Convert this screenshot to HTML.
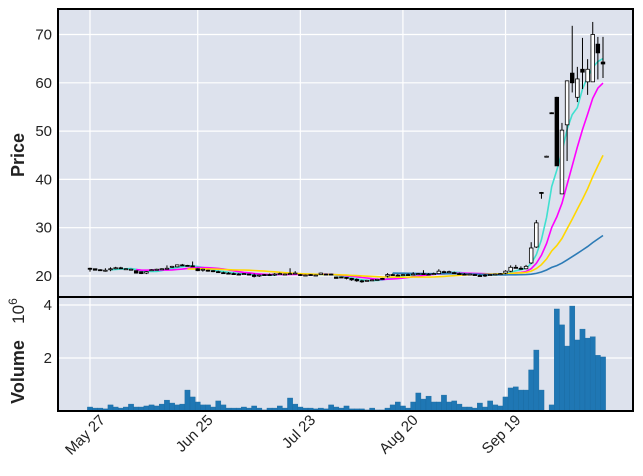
<!DOCTYPE html>
<html><head><meta charset="utf-8"><style>
html,body{margin:0;padding:0;background:#fff;}
svg{display:block;font-family:"Liberation Sans",sans-serif;}
</style></head><body>
<svg id="chart" width="643" height="476" viewBox="0 0 643 476" xmlns="http://www.w3.org/2000/svg">
<rect x="58" y="9" width="575" height="288" fill="#dde2ed"/>
<rect x="58" y="297" width="575" height="114" fill="#dde2ed"/>
<g id="grid"></g>
<g id="vol"></g>
<g id="mav"></g>
<g id="candles"></g>
<rect x="58" y="9" width="575" height="402" fill="none" stroke="#000" stroke-width="2"/>
<line x1="58" y1="297" x2="633" y2="297" stroke="#000" stroke-width="2"/>
<g id="axes" font-size="15" fill="#222"></g>
<text x="24" y="155" transform="rotate(-90 24 155)" text-anchor="middle" font-size="18" font-weight="bold" fill="#222">Price</text>
<text x="24" y="372" transform="rotate(-90 24 372)" text-anchor="middle" font-size="18" font-weight="bold" fill="#222">Volume</text>
<text x="24" y="311" transform="rotate(-90 24 311)" text-anchor="middle" font-size="17" fill="#222">10<tspan dy="-7" font-size="12">6</tspan></text>
</svg>
<script>
const opens  = [21.6,21.5,21.3,21.2,21.3,21.6,21.7,21.4,21.4,21.1,20.9,20.6,21.2,21.3,21.4,21.5,21.8,21.9,22.3,22.2,22.1,21.5,21.3,21.2,21.1,20.9,20.7,20.6,20.5,20.4,20.4,20.4,20.2,20.0,20.3,20.3,20.2,20.4,20.3,20.3,20.4,20.3,20.2,20.3,20.1,20.3,20.4,20.4,19.8,19.8,19.7,19.5,19.3,19.0,19.0,19.2,19.3,19.5,20.0,20.3,20.2,20.2,20.3,20.3,20.4,20.5,20.4,20.4,20.5,20.9,20.8,20.7,20.5,20.4,20.3,20.3,20.1,20.2,20.2,20.3,20.4,20.6,21.0,21.8,21.6,21.5,22.7,26.0,37.3,44.8,53.8,57.0,37.0,51.3,62.0,57.0,62.8,60.2,60.2,68.0,64.3];
const highs  = [21.7,21.5,21.4,21.6,21.8,21.9,21.9,21.6,21.5,21.1,20.9,21.0,21.4,21.5,21.6,22.2,22.1,22.4,22.5,22.3,23.0,21.6,21.5,21.3,21.2,21.1,20.9,20.8,20.7,20.6,20.6,20.5,20.5,20.3,20.4,20.5,20.6,20.7,20.5,21.6,21.0,20.4,20.3,20.4,20.3,20.7,20.5,20.5,19.9,19.9,19.8,19.6,19.5,19.2,19.2,19.3,19.4,19.6,20.6,20.5,20.4,20.4,20.5,20.8,20.6,21.2,20.6,20.7,21.4,21.1,21.1,20.9,20.7,20.6,20.5,20.4,20.3,20.4,20.4,20.5,20.6,21.2,22.2,22.3,22.0,22.3,27.0,31.6,37.4,44.9,53.9,57.1,51.7,60.5,71.8,63.3,69.3,64.9,72.6,69.5,69.5];
const lows   = [20.9,21.2,21.1,20.9,21.0,21.4,21.5,21.3,21.3,20.5,20.4,20.4,21.1,21.2,21.3,21.4,21.7,21.8,22.1,22.0,21.9,21.0,20.9,20.9,20.8,20.7,20.5,20.4,20.3,20.2,20.2,20.1,19.7,19.8,20.1,20.1,20.0,20.3,20.2,20.3,20.3,20.1,20.1,20.1,20.0,20.2,20.2,20.1,19.5,19.6,19.3,19.0,18.8,18.6,18.9,19.0,19.1,19.3,19.7,20.1,20.0,20.1,20.1,20.2,20.2,20.3,20.2,20.2,20.4,20.6,20.6,20.5,20.3,20.2,20.2,20.1,19.9,19.8,20.0,20.1,20.2,20.4,20.8,21.6,21.3,21.4,22.5,25.8,36.0,44.6,53.6,42.8,37.0,43.8,58.0,56.0,58.7,57.5,60.2,60.7,61.0];
const closes = [21.4,21.2,21.1,21.2,21.5,21.7,21.6,21.5,21.4,20.6,20.5,20.9,21.3,21.4,21.5,21.6,22.0,22.3,22.2,22.1,22.0,21.1,21.4,21.0,20.9,20.8,20.6,20.5,20.4,20.3,20.5,20.2,19.9,20.2,20.2,20.2,20.4,20.5,20.4,20.5,20.6,20.2,20.2,20.2,20.2,20.6,20.3,20.2,19.5,19.6,19.5,19.2,19.0,18.8,19.1,19.2,19.3,19.4,20.3,20.2,20.1,20.3,20.2,20.4,20.5,20.4,20.3,20.5,21.0,20.8,20.9,20.6,20.4,20.3,20.4,20.2,20.0,20.1,20.3,20.4,20.5,21.0,21.8,21.7,21.5,22.0,25.8,31.0,37.2,44.8,53.7,42.8,50.2,60.4,60.0,60.8,62.2,62.8,70.0,66.2,63.9];
const volumes = [0.15,0.11,0.11,0.08,0.23,0.15,0.11,0.15,0.26,0.15,0.15,0.19,0.23,0.19,0.26,0.41,0.30,0.23,0.26,0.79,0.53,0.34,0.23,0.23,0.15,0.38,0.23,0.11,0.11,0.11,0.15,0.11,0.19,0.11,0.04,0.11,0.11,0.19,0.11,0.49,0.26,0.15,0.11,0.11,0.08,0.11,0.08,0.23,0.15,0.11,0.19,0.08,0.08,0.08,0.04,0.11,0.04,0.04,0.11,0.23,0.34,0.19,0.11,0.34,0.68,0.45,0.56,0.34,0.34,0.60,0.34,0.38,0.26,0.15,0.15,0.11,0.30,0.15,0.38,0.23,0.19,0.53,0.87,0.91,0.79,0.79,1.55,2.30,0.79,0,0.23,3.85,3.25,2.45,3.96,2.68,3.09,2.75,2.80,2.10,2.04];
const mavPeriods = [5,10,20,60];
const mavColors = ["#40e0d0","#ff00ff","#ffd700","#2c7bb6"];
const xTickIdx = [0,21,41,61,81];
const xTickLabels = ["May 27","Jun 25","Jul 23","Aug 20","Sep 19"];
const priceTicks = [20,30,40,50,60,70];
const volTicks = [2,4];

const NS="http://www.w3.org/2000/svg";
const xS = i => 90 + i*5.13;
const yP = p => 276 - (p-20)*4.83;
const yV = v => 411 - v*26.5;
function mk(tag, attrs, parent){const e=document.createElementNS(NS,tag);for(const k in attrs)e.setAttribute(k,attrs[k]);parent.appendChild(e);return e;}
const grid=document.getElementById('grid'), axes=document.getElementById('axes');
xTickIdx.forEach((idx,k)=>{
  const x=xS(idx);
  const g=mk('line',{x1:x,y1:9,x2:x,y2:411,stroke:'#fff','stroke-width':1.2},grid);
  
  
  const ax=x+16, ay=421;
  const t=mk('text',{x:ax,y:ay,'text-anchor':'end',transform:`rotate(-45 ${ax} ${ay})`},axes);
  t.textContent=xTickLabels[k];
  
  
});
priceTicks.forEach(p=>{
  const y=yP(p);
  const g=mk('line',{x1:58,y1:y,x2:633,y2:y,stroke:'#fff','stroke-width':1.2},grid);
  
  
  const t=mk('text',{x:52,y:y+5,'text-anchor':'end'},axes);
  t.textContent=p;
  
  
});
volTicks.forEach(v=>{
  const y=yV(v);
  const g=mk('line',{x1:58,y1:y,x2:633,y2:y,stroke:'#fff','stroke-width':1.2},grid);
  
  
  const t=mk('text',{x:52,y:y+5,'text-anchor':'end'},axes);
  t.textContent=v;
  
  
});
const volG=document.getElementById('vol');
volumes.forEach((v,i)=>{
  if(v<=0) return;
  const r=mk('rect',{x:xS(i)-2.6,y:yV(v),width:5.2,height:411-yV(v),fill:'#1f77b4',stroke:'#1a6aa0','stroke-width':0.4},volG);
  
  
});
const mavG=document.getElementById('mav');
mavPeriods.forEach((n,k)=>{
  const pts=[];
  for(let i=n-1;i<closes.length;i++){let s=0;for(let j=i-n+1;j<=i;j++)s+=closes[j];pts.push(xS(i).toFixed(1)+','+yP(s/n).toFixed(1));}
  const l=mk('polyline',{points:pts.join(' '),fill:'none',stroke:mavColors[k],'stroke-width':1.6},mavG);
  
  
});
const cG=document.getElementById('candles');
closes.forEach((c,i)=>{
  const o=opens[i],x=xS(i),up=c>=o;
  const w=mk('line',{x1:x,y1:yP(highs[i]),x2:x,y2:yP(lows[i]),stroke:'#000','stroke-width':1},cG);
  
  
  const top=yP(Math.max(o,c)),h=Math.max(1,yP(Math.min(o,c))-top);
  const b=mk('rect',{x:x-1.8,y:top,width:3.6,height:h,fill:up?'#fff':'#000',stroke:'#000','stroke-width':0.8},cG);
  
  
});
</script>
</body></html>
